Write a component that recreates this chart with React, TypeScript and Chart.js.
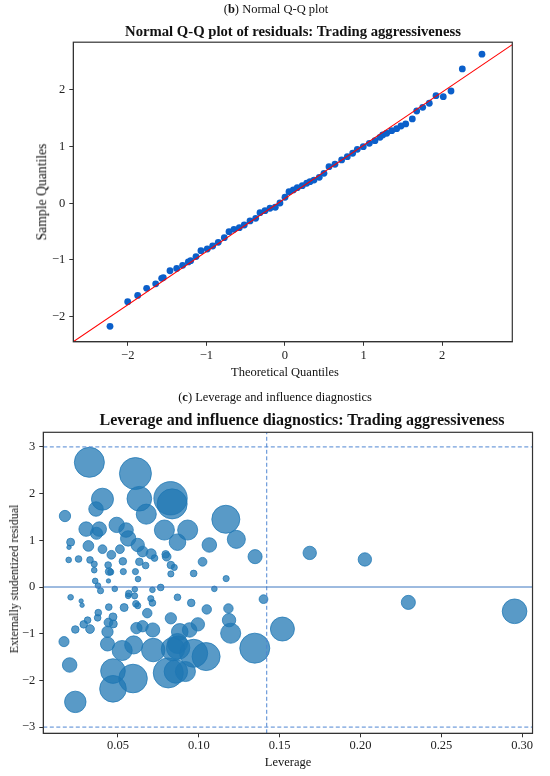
import React, { useEffect, useRef } from "react";
import { Chart, registerables } from "chart.js";
Chart.register(...registerables);

// ---------- (b) Normal Q-Q plot ----------
const qqTheoretical = [
  -2.226, -2.001, -1.874, -1.76, -1.645, -1.569, -1.548, -1.463, -1.378, -1.302,
  -1.23, -1.2, -1.132, -1.069, -0.989, -0.92, -0.849, -0.772, -0.712, -0.649,
  -0.581, -0.518, -0.445, -0.373, -0.318, -0.254, -0.191, -0.123, -0.064, 0.0,
  0.051, 0.106, 0.156, 0.22, 0.276, 0.318, 0.369, 0.436, 0.496, 0.56,
  0.636, 0.721, 0.793, 0.861, 0.92, 0.996, 1.073, 1.145, 1.209, 1.243,
  1.294, 1.358, 1.421, 1.476, 1.536, 1.62, 1.676, 1.752, 1.836, 1.921,
  2.014, 2.112, 2.256, 2.506,
];
const qqSample = [
  -2.17, -1.735, -1.625, -1.5, -1.42, -1.323, -1.31, -1.19, -1.15, -1.094,
  -1.035, -1.013, -0.94, -0.836, -0.806, -0.753, -0.688, -0.607, -0.5, -0.459,
  -0.43, -0.383, -0.312, -0.265, -0.166, -0.13, -0.088, -0.07, 0.005, 0.106,
  0.205, 0.235, 0.275, 0.31, 0.353, 0.381, 0.41, 0.458, 0.529, 0.646,
  0.688, 0.764, 0.822, 0.882, 0.952, 0.998, 1.058, 1.104, 1.164, 1.205,
  1.235, 1.28, 1.316, 1.363, 1.4, 1.487, 1.628, 1.693, 1.764, 1.898,
  1.88, 1.98, 2.37, 2.63,
];
const qqLineIntercept = 0.085;
const qqLineSlope = 0.938;
const qqXRange = [-2.693, 2.892];
const qqYRange = [-2.443, 2.841];
const qqXTicks = [-2, -1, 0, 1, 2];
const qqYTicks = [-2, -1, 0, 1, 2];

// ---------- (c) Leverage and influence diagnostics ----------
const leverage = [
  0.0323, 0.0608, 0.0825, 0.0835, 0.0404, 0.0632, 0.0364, 0.0675, 0.1167, 0.0172,
  0.0303, 0.0384, 0.0367, 0.0492, 0.055, 0.0563, 0.0787, 0.0931, 0.0868, 0.1232,
  0.1065, 0.1348, 0.0207, 0.0197, 0.0317, 0.0404, 0.0512, 0.0622, 0.0652, 0.0705,
  0.0726, 0.0459, 0.0801, 0.0795, 0.0827, 0.0848, 0.0827, 0.1023, 0.0968, 0.1169,
  0.1096, 0.0195, 0.0256, 0.0327, 0.0353, 0.0353, 0.0439, 0.0445, 0.0455, 0.053,
  0.0533, 0.0608, 0.0624, 0.0632, 0.0671, 0.0359, 0.0376, 0.0392, 0.0441, 0.048,
  0.0604, 0.0713, 0.0764, 0.14, 0.0207, 0.0272, 0.0278, 0.0567, 0.0563, 0.0603,
  0.0868, 0.0953, 0.1049, 0.1183, 0.0443, 0.0538, 0.0611, 0.0622, 0.0703, 0.0713,
  0.0681, 0.0378, 0.0374, 0.0469, 0.0441, 0.0471, 0.0312, 0.0288, 0.0236, 0.0327,
  0.0435, 0.0614, 0.0652, 0.0715, 0.0827, 0.0994, 0.0943, 0.0882, 0.1187, 0.1197,
  0.0435, 0.0166, 0.0526, 0.0597, 0.0718, 0.084, 0.0872, 0.0968, 0.1045, 0.1346,
  0.0201, 0.0469, 0.0593, 0.0811, 0.0858, 0.0917, 0.0469, 0.0236, 0.0868, 0.1686,
  0.2027, 0.2296, 0.2953, 0.1517,
];
const studentized = [
  2.67, 2.43, 1.9, 1.78, 1.88, 1.89, 1.67, 1.56, 1.45, 1.52,
  1.24, 1.24, 1.15, 1.33, 1.22, 1.04, 1.22, 1.22, 0.96, 1.02,
  0.9, 0.65, 0.96, 0.85, 0.88, 0.81, 0.81, 0.9, 0.76, 0.71,
  0.62, 0.69, 0.65, 0.7, 0.47, 0.42, 0.28, 0.54, 0.29, 0.18,
  -0.04, 0.58, 0.6, 0.58, 0.49, 0.36, 0.47, 0.33, 0.32, 0.55,
  0.33, 0.33, 0.17, 0.54, 0.46, 0.13, 0.03, -0.08, 0.13, -0.04,
  -0.05, -0.06, -0.01, -0.26, -0.22, -0.3, -0.39, -0.14, -0.19, -0.19,
  -0.22, -0.34, -0.48, -0.46, -0.43, -0.44, -0.36, -0.4, -0.25, -0.34,
  -0.56, -0.55, -0.66, -0.64, -0.76, -0.79, -0.71, -0.8, -0.91, -0.9,
  -0.96, -0.88, -0.84, -0.92, -0.67, -0.8, -0.92, -0.96, -0.71, -0.99,
  -1.22, -1.17, -1.36, -1.24, -1.35, -1.33, -1.3, -1.42, -1.49, -1.31,
  -1.67, -1.8, -1.96, -1.84, -1.81, -1.81, -2.18, -2.46, -1.21, 0.73,
  0.59, -0.33, -0.52, -0.9,
];
const cooksDistance = [
  0.141, 0.16, 0.174, 0.141, 0.076, 0.095, 0.033, 0.063, 0.123, 0.02,
  0.033, 0.033, 0.023, 0.037, 0.033, 0.037, 0.063, 0.063, 0.043, 0.051,
  0.033, 0.031, 0.01, 0.003, 0.018, 0.012, 0.012, 0.028, 0.018, 0.016,
  0.007, 0.012, 0.012, 0.009, 0.009, 0.006, 0.006, 0.012, 0.007, 0.006,
  0.005, 0.005, 0.007, 0.007, 0.006, 0.005, 0.007, 0.009, 0.006, 0.009,
  0.006, 0.006, 0.005, 0.009, 0.007, 0.005, 0.005, 0.006, 0.003, 0.005,
  0.005, 0.005, 0.007, 0.012, 0.005, 0.003, 0.003, 0.007, 0.005, 0.006,
  0.007, 0.009, 0.014, 0.014, 0.007, 0.01, 0.007, 0.006, 0.006, 0.007,
  0.014, 0.007, 0.007, 0.01, 0.012, 0.01, 0.007, 0.009, 0.009, 0.012,
  0.02, 0.02, 0.02, 0.031, 0.02, 0.028, 0.033, 0.043, 0.028, 0.063,
  0.031, 0.016, 0.063, 0.051, 0.086, 0.086, 0.086, 0.123, 0.123, 0.141,
  0.033, 0.095, 0.128, 0.141, 0.086, 0.063, 0.111, 0.072, 0.063, 0.028,
  0.028, 0.031, 0.095, 0.09,
];
const levXRange = [0.0038, 0.3064];
const levYRange = [-3.133, 3.313];
const levXTicks = [0.05, 0.1, 0.15, 0.2, 0.25, 0.3];
const levYTicks = [-3, -2, -1, 0, 1, 2, 3];
const residualThreshold = 3;
const leverageThreshold = 0.142;

// ---------- styling ----------
const SERIF = "'Liberation Serif', 'Times New Roman', 'DejaVu Serif', serif";
const AXIS = "#333333";
const minus = (v: number, digits = 0) =>
  (digits ? v.toFixed(digits) : String(v)).replace("-", "\u2212");

const framePlugin = {
  id: "frame",
  afterDatasetsDraw(chart: any) {
    const { ctx, chartArea } = chart;
    ctx.save();
    ctx.strokeStyle = AXIS;
    ctx.lineWidth = 1.2;
    ctx.strokeRect(
      chartArea.left,
      chartArea.top,
      chartArea.right - chartArea.left,
      chartArea.bottom - chartArea.top
    );
    ctx.restore();
  },
};

function axisOpts(
  range: number[],
  ticks: number[],
  fmt: (v: number) => string,
  isY: boolean,
  fitSize: number,
  pad: number
) {
  return {
    type: "linear",
    min: range[0],
    max: range[1],
    afterBuildTicks: (scale: any) => {
      scale.ticks = ticks.map((v) => ({ value: v }));
    },
    afterFit: (scale: any) => {
      if (isY) scale.width = fitSize;
      else scale.height = fitSize;
    },
    grid: {
      display: true,
      drawOnChartArea: false,
      drawTicks: true,
      tickLength: 4,
      color: AXIS,
      lineWidth: 1,
    },
    border: { display: true, color: AXIS, width: 1 },
    ticks: {
      autoSkip: false,
      maxRotation: 0,
      padding: pad,
      color: "#222",
      font: { family: SERIF, size: 12.5 },
      callback: (v: any) => fmt(Number(v)),
    },
  };
}

function QQChart() {
  const ref = useRef<HTMLCanvasElement>(null);
  useEffect(() => {
    if (!ref.current) return;
    const pts = qqTheoretical.map((x, i) => ({ x, y: qqSample[i] }));
    const linePts = qqXRange.map((x) => ({ x, y: qqLineIntercept + qqLineSlope * x }));
    const chart = new Chart(ref.current, {
      type: "scatter",
      data: {
        datasets: [
          {
            type: "line",
            data: linePts,
            borderColor: "#ff0000",
            borderWidth: 1.1,
            pointRadius: 0,
            fill: false,
          } as any,
          {
            data: pts,
            backgroundColor: "#0b5fca",
            borderColor: "#0b5fca",
            borderWidth: 0,
            pointRadius: 3.4,
          },
        ],
      },
      options: {
        responsive: false,
        animation: false,
        layout: { padding: { left: 0, top: 42.2, right: 37.7, bottom: 0 } },
        plugins: { legend: { display: false }, tooltip: { enabled: false } },
        scales: {
          x: axisOpts(qqXRange, qqXTicks, (v) => minus(v), false, 48.2, 2) as any,
          y: axisOpts(qqYRange, qqYTicks, (v) => minus(v), true, 73.3, 4) as any,
        },
      },
      plugins: [framePlugin],
    });
    return () => chart.destroy();
  }, []);
  return (
    <canvas
      ref={ref}
      width={550}
      height={390}
      style={{ position: "absolute", left: 0, top: 0, width: 550, height: 390 }}
    />
  );
}

function LeverageChart() {
  const ref = useRef<HTMLCanvasElement>(null);
  useEffect(() => {
    if (!ref.current) return;
    const bubbles = leverage.map((x, i) => ({
      x,
      y: studentized[i],
      r: 40 * Math.sqrt(cooksDistance[i]),
    }));
    const dashColor = "#4f86d2";
    const hLine = (y: number, dashed: boolean) => ({
      type: "line",
      data: levXRange.map((x) => ({ x, y })),
      borderColor: dashed ? dashColor : "#3d76c0",
      borderWidth: 1,
      borderDash: dashed ? [4, 2.5] : [],
      pointRadius: 0,
      fill: false,
    });
    const chart = new Chart(ref.current, {
      type: "bubble",
      data: {
        datasets: [
          hLine(residualThreshold, true) as any,
          hLine(-residualThreshold, true) as any,
          hLine(0, false) as any,
          {
            type: "line",
            data: levYRange.map((y) => ({ x: leverageThreshold, y })),
            borderColor: dashColor,
            borderWidth: 1,
            borderDash: [4, 2.5],
            pointRadius: 0,
            fill: false,
          } as any,
          {
            data: bubbles,
            backgroundColor: "rgba(31,119,180,0.74)",
            borderColor: "rgba(31,119,180,0.95)",
            borderWidth: 0.8,
          },
        ],
      },
      options: {
        responsive: false,
        animation: false,
        layout: { padding: { left: 0, top: 42.3, right: 10.7, bottom: 0 } },
        plugins: { legend: { display: false }, tooltip: { enabled: false } },
        scales: {
          x: axisOpts(levXRange, levXTicks, (v) => minus(v, 2), false, 42.7, 1) as any,
          y: axisOpts(levYRange, levYTicks, (v) => minus(v), true, 43.3, 4) as any,
        },
      },
      plugins: [framePlugin],
    });
    return () => chart.destroy();
  }, []);
  return (
    <canvas
      ref={ref}
      width={550}
      height={386}
      style={{ position: "absolute", left: 0, top: 390, width: 550, height: 386 }}
    />
  );
}

function Label(props: {
  x: number;
  y: number;
  size: number;
  bold?: boolean;
  rotate?: boolean;
  children: React.ReactNode;
}) {
  const { x, y, size, bold, rotate, children } = props;
  return (
    <div
      style={{
        position: "absolute",
        left: x,
        top: y,
        transform: `translate(-50%, -50%)${rotate ? " rotate(-90deg)" : ""}`,
        fontFamily: SERIF,
        fontSize: size,
        fontWeight: bold ? 700 : 400,
        color: "#111",
        whiteSpace: "nowrap",
        lineHeight: 1,
      }}
    >
      {children}
    </div>
  );
}

export default function App() {
  return (
    <div
      style={{
        position: "absolute",
        left: 0,
        top: 0,
        width: 550,
        height: 776,
        background: "#ffffff",
        overflow: "hidden",
      }}
    >
      <QQChart />
      <LeverageChart />
      <Label x={276} y={9} size={12.5}>
        (<b>b</b>) Normal Q-Q plot
      </Label>
      <Label x={293} y={31} size={14.7} bold>
        Normal Q-Q plot of residuals: Trading aggressiveness
      </Label>
      <Label x={42} y={192} size={13.7} rotate>
        Sample Quantiles
      </Label>
      <Label x={285} y={372} size={12.5}>
        Theoretical Quantiles
      </Label>
      <Label x={275} y={397} size={12.5}>
        (<b>c</b>) Leverage and influence diagnostics
      </Label>
      <Label x={302} y={420} size={16} bold>
        Leverage and influence diagnostics: Trading aggressiveness
      </Label>
      <Label x={14} y={579} size={12} rotate>
        Externally studentized residual
      </Label>
      <Label x={288} y={762} size={12.5}>
        Leverage
      </Label>
    </div>
  );
}
